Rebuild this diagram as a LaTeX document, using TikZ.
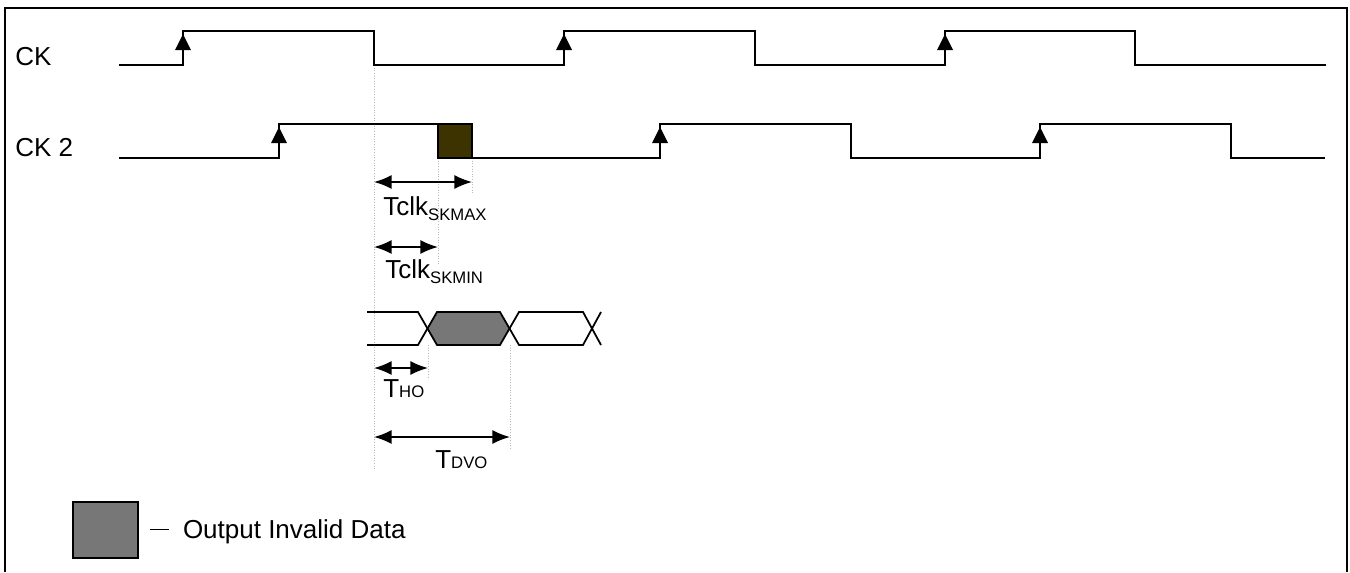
\documentclass[tikz,border=0pt]{standalone}
\usepackage{fontspec}
\setmainfont{Liberation Sans}
\usetikzlibrary{arrows.meta}
\definecolor{skewfill}{RGB}{61,51,0}
\definecolor{invalidgray}{RGB}{119,119,119}
\tikzset{
  wave/.style={line width=1.2pt, line join=miter},
  bus/.style={line width=1pt},
  guide/.style={gray!55, densely dotted, line width=0.5pt},
  dim/.style={{Latex[length=10pt,width=8pt]}-{Latex[length=10pt,width=8pt]}, line width=1pt},
  label/.style={font=\fontsize{14.8}{17}\selectfont, inner sep=0pt, anchor=base west},
}
\newcommand{\smallpart}{\fontsize{9.5}{11}\selectfont}
\newcommand{\edgemark}[2]{\fill (#1,#2) ++(0,3) -- ++(-8,16) -- ++(16,0) -- cycle;}

\begin{document}
\begin{tikzpicture}[x=0.02cm, y=-0.02cm]
  \useasboundingbox (0,0) rectangle (1350,572);

  % Frame
  \draw [wave] (5,572) -- (5,8) -- (1347,8) -- (1347,572);

  % Guides
  \draw [guide] (374,65) -- (374,470);
  \draw [guide] (438,158) -- (438,265);
  \draw [guide] (472,158) -- (472,193);
  \draw [guide] (428,345) -- (428,378);
  \draw [guide] (510,345) -- (510,448);

  % Clock CK
  \node [label] (ck) at (15,65) {CK};
  \draw [wave] (119,65) -- (183,65) -- (183,31) -- (374,31) -- (374,65) -- (564,65)
    -- (564,31) -- (755,31) -- (755,65) -- (945,65) -- (945,31) -- (1135,31)
    -- (1135,65) -- (1326,65);
  \foreach \x in {183,564,945} \edgemark{\x}{31};

  % Clock CK 2
  \node [label] (ck2) at (15,156) {CK 2};
  \fill [skewfill] (438,124) rectangle (472,158);
  \draw [wave] (119,158) -- (279,158) -- (279,124) -- (472,124) -- (472,158) -- (660,158)
    -- (660,124) -- (851,124) -- (851,158) -- (1040,158) -- (1040,124) -- (1231,124)
    -- (1231,158) -- (1325,158);
  \draw [wave] (438,124) -- (438,158) -- (472,158);
  \foreach \x in {279,660,1040} \edgemark{\x}{124};

  % Output data
  \fill [invalidgray] (428,328.5) -- (437,312) -- (500,312) -- (510,328.5) -- (500,345)
    -- (437,345) -- cycle;
  \draw [bus] (367,312) -- (418,312) -- (437,345) -- (500,345) -- (519,312) -- (583,312) -- (601,345);
  \draw [bus] (367,345) -- (418,345) -- (437,312) -- (500,312) -- (519,345) -- (583,345) -- (601,312);

  % Skew and output timing
  \path (374,182) coordinate (maxl) (472,182) coordinate (maxr)
        (374,247) coordinate (minl) (438,247) coordinate (minr)
        (374,368) coordinate (hol)  (428,368) coordinate (hor)
        (374,437) coordinate (dvol) (510,437) coordinate (dvor);
  \draw [dim] (maxl) -- (maxr);
  \node [label] (tmax) at (383,215) {Tclk\raisebox{-0.11cm}{\smallpart SKMAX}};
  \draw [dim] (minl) -- (minr);
  \node [label] (tmin) at (385,278) {Tclk\raisebox{-0.11cm}{\smallpart SKMIN}};
  \draw [dim] (hol) -- (hor);
  \node [label] (tho) at (383,397) {T\smallpart HO};
  \draw [dim] (dvol) -- (dvor);
  \node [label] (tdvo) at (435,468) {T\smallpart DVO};

  % Legend
  \draw [fill=invalidgray, line width=1pt] (73,502) rectangle (138,558);
  \node [label] (legend) at (150,538) {\rule[0.3em]{0.7em}{0.8pt}\ \ Output Invalid Data};
\end{tikzpicture}
\end{document}
